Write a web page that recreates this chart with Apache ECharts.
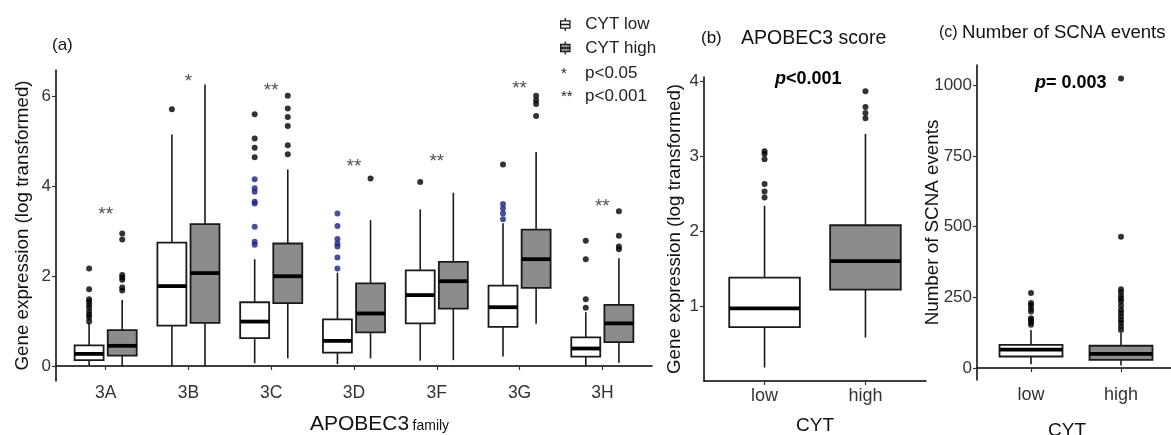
<!DOCTYPE html>
<html><head><meta charset="utf-8">
<script src="https://cdn.jsdelivr.net/npm/echarts@6/dist/echarts.min.js"></script>
<style>html,body{margin:0;padding:0;background:#fff}#c{width:1171px;height:435px}</style>
</head><body><div id="c"></div>
<script>
// ---------- Panel (a): APOBEC3 family ----------
const families = ['3A','3B','3C','3D','3F','3G','3H'];
// [whiskerLow, Q1, median, Q3, whiskerHigh]
const lowStats = [
  [0.00,0.13,0.27,0.46,0.95],
  [0.00,0.90,1.78,2.75,5.16],
  [0.06,0.62,0.99,1.42,2.38],
  [0.04,0.30,0.56,1.04,2.08],
  [0.12,0.95,1.58,2.13,3.49],
  [0.21,0.87,1.31,1.79,3.18],
  [0.00,0.21,0.39,0.64,1.20]
];
const highStats = [
  [0.00,0.23,0.45,0.80,1.47],
  [0.00,0.96,2.07,3.16,6.27],
  [0.17,1.40,2.00,2.73,4.38],
  [0.17,0.75,1.17,1.84,3.25],
  [0.13,1.28,1.89,2.32,3.86],
  [0.94,1.74,2.38,3.04,4.77],
  [0.07,0.53,0.95,1.36,2.40]
];
const lowOutliers = [
  [0.99,1.08,1.14,1.21,1.29,1.36,1.43,1.49,1.71,2.17],
  [5.72],
  [4.65,4.86,5.07,5.61],
  [],
  [4.10],
  [4.49],
  [1.30,1.49,2.38,2.79]
];
const lowBlueOutliers = [
  [],
  [],
  [2.70,2.77,3.10,3.62,3.66,3.88,3.96,4.16],
  [2.17,2.42,2.66,2.73,2.83,3.12,3.40],
  [],
  [3.27,3.40,3.51,3.61],
  []
];
const highOutliers = [
  [1.68,1.75,1.92,1.97,2.03,2.82,2.95],
  [],
  [4.72,4.92,5.35,5.55,5.74,6.02],
  [4.18],
  [],
  [5.57,5.84,5.92,6.02],
  [2.60,2.66,2.90,3.45]
];
const sigLabels = ['**','*','**','**','**','**','**'];
const sigY = [3.36,6.34,6.14,4.44,4.55,6.18,3.55];
const yTicksA = [0,2,4,6];

// ---------- Panel (b): APOBEC3 score ----------
const cytGroups = ['low','high'];
const scoreStats = [
  [0.18,0.72,0.97,1.38,2.34],
  [0.58,1.22,1.60,2.08,3.30]
];
const scoreOutliers = [
  [2.45,2.53,2.63,2.96,3.03,3.07],
  [3.51,3.58,3.66,3.87]
];
const yTicksB = [1,2,3,4];

// ---------- Panel (c): SCNA events ----------
const scnaStats = [
  [14,41,65,82,135],
  [9,29,50,79,125]
];
const scnaOutliers = [
  [153,162,170,176,200,210,222,230,265],
  [135,147,160,170,182,195,205,220,235,245,255,268,279,464,1023]
];
const yTicksC = [0,250,500,750,1000];

// ---------- helpers ----------
const INK = '#1a1a1a';
const LOW_FILL = '#ffffff';
const HIGH_FILL = '#8c8c8c';
const BLUE = '#1a2480';
const FONT = 'Liberation Sans';

function boxRenderer(offset, halfW, fill) {
  return function (params, api) {
    const x = api.value(0) + offset;
    const lo = api.coord([x, api.value(1)]);
    const q1 = api.coord([x, api.value(2)]);
    const md = api.coord([x, api.value(3)]);
    const q3 = api.coord([x, api.value(4)]);
    const hi = api.coord([x, api.value(5)]);
    const hw = api.size([halfW, 0])[0];
    const cx = q1[0];
    return {
      type: 'group',
      children: [
        {type: 'line', shape: {x1: cx, y1: lo[1], x2: cx, y2: q1[1]}, style: {stroke: INK, lineWidth: 1.6}},
        {type: 'line', shape: {x1: cx, y1: q3[1], x2: cx, y2: hi[1]}, style: {stroke: INK, lineWidth: 1.6}},
        {type: 'rect', shape: {x: cx - hw, y: q3[1], width: 2 * hw, height: q1[1] - q3[1]},
          style: {fill: fill, stroke: INK, lineWidth: 1.8}},
        {type: 'line', shape: {x1: cx - hw, y1: md[1], x2: cx + hw, y2: md[1]}, style: {stroke: '#000', lineWidth: 3.8}}
      ]
    };
  };
}
function statsData(stats) {
  return stats.map((s, i) => [i + 1].concat(s));
}
function outlierData(list, offset) {
  const out = [];
  list.forEach((vals, i) => vals.forEach(v => out.push([i + 1 + offset, v])));
  return out;
}
function boxSeries(name, stats, axisIdx, offset, halfW, fill) {
  return {
    name: name, type: 'custom', xAxisIndex: axisIdx, yAxisIndex: axisIdx,
    renderItem: boxRenderer(offset, halfW, fill),
    encode: {x: 0, y: [1, 2, 3, 4, 5]},
    itemStyle: {color: fill, borderColor: INK},
    data: statsData(stats), z: 2
  };
}
function dotSeries(data, axisIdx, color) {
  return {
    type: 'scatter', xAxisIndex: axisIdx, yAxisIndex: axisIdx,
    symbolSize: 6, itemStyle: {color: color}, data: data, z: 3, silent: true
  };
}
function axisCommon() {
  return {
    axisLine: {lineStyle: {color: '#000', width: 1.5}},
    splitLine: {show: false},
    nameMoveOverlap: false
  };
}
function xAxisCat(gridIdx, labels, fontSize, margin) {
  const ticks = labels.map((_, i) => i + 1);
  return Object.assign(axisCommon(), {
    type: 'value', gridIndex: gridIdx, min: 0.4, max: labels.length + 0.6,
    axisTick: {show: true, length: 4, lineStyle: {color: '#333', width: 1.2}, customValues: ticks},
    axisLabel: {customValues: ticks, formatter: v => labels[Math.round(v) - 1],
      fontSize: fontSize, color: '#333', fontFamily: FONT, margin: margin}
  });
}
function yAxisVal(gridIdx, min, max, ticks, name, gap) {
  return Object.assign(axisCommon(), {
    type: 'value', gridIndex: gridIdx, min: min, max: max,
    axisTick: {show: true, length: 4, lineStyle: {color: '#333', width: 1.2}, customValues: ticks},
    axisLabel: {customValues: ticks, formatter: v => String(v), fontSize: 17, color: '#333', fontFamily: FONT, margin: 5},
    name: name, nameLocation: 'middle', nameGap: gap,
    nameTextStyle: {fontSize: 18.8, color: '#111', fontFamily: FONT}
  });
}

const BOXPATH = 'path://M5 0L5 3M0 3L10 3L10 11L0 11ZM0 7L10 7M5 11L5 14';
const TITLE_STYLE = {fontWeight: 'normal', color: '#111', fontFamily: FONT};

const option = {
  animation: false,
  backgroundColor: '#fff',
  textStyle: {fontFamily: FONT},
  grid: [
    {left: 56, top: 70, width: 596, height: 311, outerBoundsMode: 'none', containLabel: false},
    {left: 704, top: 77, width: 222, height: 304, outerBoundsMode: 'none', containLabel: false},
    {left: 977, top: 65, width: 198, height: 315, outerBoundsMode: 'none', containLabel: false}
  ],
  xAxis: [
    xAxisCat(0, families, 17.5, 3),
    Object.assign(xAxisCat(1, cytGroups, 18, 6), {name: 'CYT', nameLocation: 'middle', nameGap: 35,
      nameTextStyle: {fontSize: 19, color: '#111', fontFamily: FONT}}),
    Object.assign(xAxisCat(2, cytGroups, 18, 6), {name: 'CYT', nameLocation: 'middle', nameGap: 41,
      nameTextStyle: {fontSize: 19, color: '#111', fontFamily: FONT, padding: [0, 18, 0, 0]}})
  ],
  yAxis: [
    yAxisVal(0, -0.334, 6.595, yTicksA, 'Gene expression (log transformed)', 24),
    yAxisVal(1, 0, 4.06, yTicksB, 'Gene expression (log transformed)', 20),
    yAxisVal(2, -42, 1071, yTicksC, 'Number of SCNA events', 35)
  ],
  legend: {
    orient: 'vertical', left: 560, top: 16, itemWidth: 10, itemHeight: 13, itemGap: 6.5,
    padding: 0,
    textStyle: {fontSize: 17, color: '#222', fontFamily: FONT, padding: [0, 0, 0, 10]},
    selectedMode: false,
    data: [
      {name: 'CYT low', icon: BOXPATH, itemStyle: {color: LOW_FILL, borderColor: INK, borderWidth: 1.3}},
      {name: 'CYT high', icon: BOXPATH, itemStyle: {color: HIGH_FILL, borderColor: INK, borderWidth: 1.3}}
    ]
  },
  title: [
    {text: '(a)', left: 52, top: 37, padding: 0, textStyle: Object.assign({fontSize: 17}, TITLE_STYLE)},
    {text: '(b)', left: 701, top: 30, padding: 0, textStyle: Object.assign({fontSize: 17}, TITLE_STYLE)},
    {text: 'APOBEC3 score', left: 741, top: 29, padding: 0, textStyle: Object.assign({fontSize: 19.5}, TITLE_STYLE)},
    {text: '(c)', left: 939, top: 25, padding: 0, textStyle: Object.assign({fontSize: 16}, TITLE_STYLE)},
    {text: 'Number of SCNA events', left: 962, top: 23, padding: 0, textStyle: Object.assign({fontSize: 18.6}, TITLE_STYLE)}
  ],
  graphic: [
    {type: 'text', left: 310, top: 414, style: {
      text: '{a|APOBEC3} {b|family}', fill: '#111',
      rich: {a: {fontSize: 21, fontFamily: FONT, fill: '#111'},
             b: {fontSize: 14, fontFamily: FONT, fill: '#111', padding: [3, 0, 0, 0]}}}},
    {type: 'text', left: 561, top: 66, style: {text: '*', fontSize: 15, fontFamily: FONT, fill: '#222'}},
    {type: 'text', left: 585, top: 65, style: {text: 'p<0.05', fontSize: 17, fontFamily: FONT, fill: '#222'}},
    {type: 'text', left: 561, top: 89, style: {text: '**', fontSize: 15, fontFamily: FONT, fill: '#222'}},
    {type: 'text', left: 585, top: 88, style: {text: 'p<0.001', fontSize: 17, fontFamily: FONT, fill: '#222'}},
    {type: 'text', left: 775, top: 70, style: {
      text: '{i|p}{n|<0.001}',
      rich: {i: {fontSize: 18, fontStyle: 'italic', fontWeight: 'bold', fontFamily: FONT, fill: '#000'},
             n: {fontSize: 18, fontWeight: 'bold', fontFamily: FONT, fill: '#000'}}}},
    {type: 'text', left: 1035, top: 74, style: {
      text: '{i|p}{n|= 0.003}',
      rich: {i: {fontSize: 18, fontStyle: 'italic', fontWeight: 'bold', fontFamily: FONT, fill: '#000'},
             n: {fontSize: 18, fontWeight: 'bold', fontFamily: FONT, fill: '#000'}}}}
  ],
  series: [
    boxSeries('CYT low', lowStats, 0, -0.2, 0.175, LOW_FILL),
    boxSeries('CYT high', highStats, 0, 0.2, 0.175, HIGH_FILL),
    dotSeries(outlierData(lowOutliers, -0.2), 0, '#000'),
    dotSeries(outlierData(lowBlueOutliers, -0.2), 0, BLUE),
    dotSeries(outlierData(highOutliers, 0.2), 0, '#000'),
    {
      type: 'scatter', xAxisIndex: 0, yAxisIndex: 0, symbolSize: 1, silent: true,
      itemStyle: {color: 'rgba(0,0,0,0)'},
      data: sigY.map((v, i) => [i + 1, v]),
      label: {show: true, position: 'inside', formatter: p => sigLabels[p.dataIndex],
        fontSize: 19, color: '#222', fontFamily: FONT}
    },
    {
      name: 'score', type: 'custom', xAxisIndex: 1, yAxisIndex: 1,
      renderItem: function (params, api) {
        const fill = params.dataIndex === 0 ? LOW_FILL : HIGH_FILL;
        return boxRenderer(0, 0.35, fill)(params, api);
      },
      encode: {x: 0, y: [1, 2, 3, 4, 5]}, data: statsData(scoreStats)
    },
    dotSeries(outlierData(scoreOutliers, 0), 1, '#000'),
    {
      name: 'scna', type: 'custom', xAxisIndex: 2, yAxisIndex: 2,
      renderItem: function (params, api) {
        const fill = params.dataIndex === 0 ? LOW_FILL : HIGH_FILL;
        return boxRenderer(0, 0.35, fill)(params, api);
      },
      encode: {x: 0, y: [1, 2, 3, 4, 5]}, data: statsData(scnaStats)
    },
    dotSeries(outlierData(scnaOutliers, 0), 2, '#000')
  ]
};
const chart = echarts.init(document.getElementById('c'), null, {renderer: 'canvas'});
chart.setOption(option);
</script>
</body></html>
